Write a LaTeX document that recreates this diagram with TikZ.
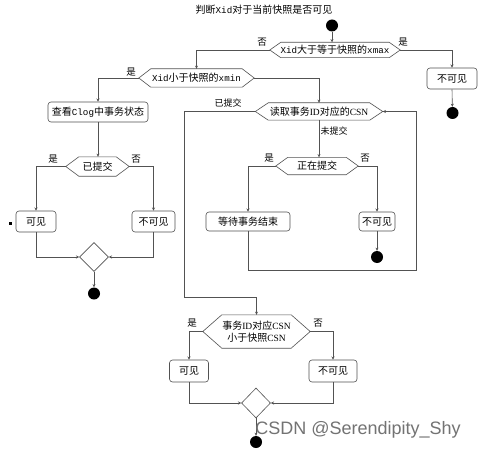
\documentclass[tikz,border=0pt]{standalone}
\usepackage{fontspec}
\setmainfont{Noto Sans CJK SC}
\newfontfamily\mono[Scale=0.92]{Liberation Mono}
\newfontfamily\ser[Scale=0.95]{Liberation Serif}
\newfontfamily\arialf{Liberation Sans}
\usetikzlibrary{arrows.meta,shapes.geometric}
\tikzset{
  flowline/.style={draw=black!68, line width=0.6pt},
  arr/.style={flowline, -{Stealth[length=3.2pt,width=3pt]}},
  txt/.style={font=\fontsize{10}{12.5}\selectfont, inner sep=0pt},
  lbl/.style={font=\fontsize{9.5}{11}\selectfont, inner sep=0pt},
  actbox/.style={flowline, rounded corners=3pt, txt, minimum height=20pt},
  hexnode/.style={txt, align=center},
  dot/.style={circle, fill=black, minimum size=12pt, inner sep=0pt},
  merge/.style={flowline, shape=diamond, inner sep=0pt, minimum width=29pt, minimum height=29pt},
}
\newcommand\hexdraw[2]{\draw[flowline] (#1.west) -- ([xshift=#2]#1.north west) -- ([xshift=-#2]#1.north east) -- (#1.east) -- ([xshift=-#2]#1.south east) -- ([xshift=#2]#1.south west) -- cycle;}
\begin{document}
\begin{tikzpicture}[x=1pt,y=-1pt]
\useasboundingbox[fill=white] (0,0) rectangle (478,449);

% title and top
\node[txt] (title) at (264,10) {判断{\mono Xid}对于当前快照是否可见};
\node[dot] (s1) at (332,25.5) {};
\node[hexnode, minimum width=130pt, minimum height=15pt] (h1) at (335,50) {{\mono Xid}大于等于快照的{\mono xmax}};
\hexdraw{h1}{11pt}
\node[lbl] (h1no) at (262,42) {否};
\node[lbl] (h1yes) at (403,42) {是};
\node[actbox, minimum width=50pt, minimum height=21pt] (n1) at (452,78.5) {不可见};
\node[dot] (e1) at (452.5,113) {};
\draw[arr] (s1) -- (s1 |- h1.north);
\draw[arr] (h1.east) -| (n1.north);
\draw[arr] (n1.south) -- (e1);

% second decision
\node[hexnode, minimum width=115pt, minimum height=18pt] (h2) at (196.5,78) {{\mono Xid}小于快照的{\mono xmin}};
\hexdraw{h2}{12pt}
\draw[arr] (h1.west) -| (h2.north);
\node[lbl] (h2yes) at (131,72) {是};

% left branch
\node[actbox, minimum width=100pt] (b1) at (98,112) {查看{\mono Clog}中事务状态};
\draw[arr] (h2.west) -| (b1.north);
\node[hexnode, minimum width=63pt, minimum height=19pt] (h6) at (97.5,166.5) {已提交};
\hexdraw{h6}{13pt}
\draw[arr] (b1.south) -- (b1.south |- h6.north);
\node[lbl] (h6yes) at (53,159) {是};
\node[lbl] (h6no) at (136,159) {否};
\node[actbox, minimum width=40pt, minimum height=21pt] (b6) at (36,221.5) {可见};
\node[actbox, minimum width=43pt, minimum height=21pt] (b7) at (153.5,221.5) {不可见};
\draw[arr] (h6.west) -| (b6.north);
\draw[arr] (h6.east) -| (b7.north);
\fill[black] (8.5,221.5) rectangle (11.5,224.5);
\node[merge] (d1) at (94,257) {};
\draw[arr] (b6.south) |- (d1.west);
\draw[arr] (b7.south) |- (d1.east);
\node[dot] (e4) at (94,293.5) {};
\draw[arr] (d1.south) -- (e4);

% CSN decision
\node[hexnode, minimum width=127pt, minimum height=17pt] (h3) at (319,111.5) {读取事务{\ser ID}对应的{\ser CSN}};
\hexdraw{h3}{13pt}
\draw[arr] (h2.east) -| (h3.north);
\node[lbl, font=\fontsize{9}{11}\selectfont] (h3c) at (228,103) {已提交};
\node[lbl, font=\fontsize{9}{11}\selectfont] (h3u) at (334,131) {未提交};
\node[hexnode, minimum width=82pt, minimum height=17pt] (h4) at (317,166) {正在提交};
\hexdraw{h4}{12pt}
\draw[arr] (h3.south) -- (h3.south |- h4.north);
\node[lbl] (h4yes) at (269,158) {是};
\node[lbl] (h4no) at (365,158) {否};
\node[actbox, minimum width=84pt, minimum height=19pt] (b2) at (248,221.5) {等待事务结束};
\node[actbox, minimum width=36pt, minimum height=19pt] (b3) at (377,221.5) {不可见};
\draw[arr] (h4.west) -| (b2.north);
\draw[arr] (h4.east) -| (b3.north);
\node[dot] (e2) at (377,257) {};
\draw[arr] (b3.south) -- (e2);
\coordinate (lp1) at (248,270);
\coordinate (lp2) at (416,270);
\draw[arr] (b2.south) -- (lp1) -- (lp2) |- (h3.east);

% final decision
\node[hexnode, minimum width=107pt, minimum height=33pt] (h5) at (256.5,331.5) {事务{\ser ID}对应{\ser CSN}\\小于快照{\ser CSN}};
\hexdraw{h5}{19pt}
\coordinate (c1) at (184,111.5);
\coordinate (c2) at (184,297);
\draw[arr] (h3.west) -- (c1) -- (c2) -| (h5.north);
\node[lbl] (h5yes) at (192,323) {是};
\node[lbl] (h5no) at (318,323) {否};
\node[actbox, minimum width=39pt, minimum height=22pt] (b4) at (189,371) {可见};
\node[actbox, minimum width=48pt, minimum height=22pt] (b5) at (333,371) {不可见};
\draw[arr] (h5.west) -| (b4.north);
\draw[arr] (h5.east) -| (b5.north);
\node[merge, minimum height=30pt] (d2) at (256,403) {};
\draw[arr] (b4.south) |- (d2.west);
\draw[arr] (b5.south) |- (d2.east);
\node[dot] (e3) at (256,442) {};
\draw[arr] (d2.south) -- (e3);

% watermark
\node[inner sep=0pt, text=black!55, font=\arialf\fontsize{18}{20}\selectfont] (wm) at (358,430) {CSDN @Serendipity\_Shy};
\end{tikzpicture}
\end{document}
